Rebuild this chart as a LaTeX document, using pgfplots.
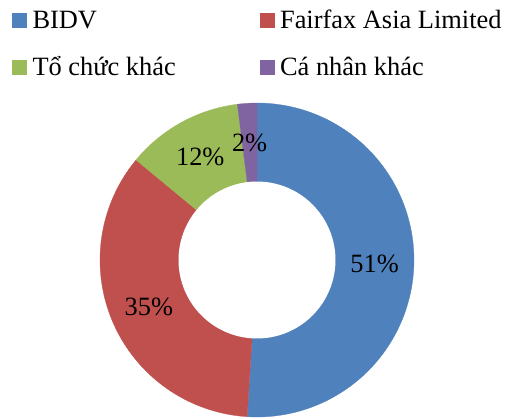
\documentclass[border=0pt]{standalone}
\usepackage{fontspec}
\setmainfont{Liberation Serif}
\usepackage{pgfplots}
\usepackage{pgfplotstable}
\pgfplotsset{compat=1.18}

\definecolor{cBIDV}{HTML}{4F81BD}
\definecolor{cFair}{HTML}{C0504D}
\definecolor{cOrg}{HTML}{9BBB59}
\definecolor{cInd}{HTML}{8064A2}

% shares in percent: BIDV, Fairfax, other orgs, other individuals
\pgfplotstableread{
value
51
35
12
2
}\shares

\begin{document}
\begin{tikzpicture}
\pgfplotstablegetelem{0}{value}\of\shares \pgfmathsetmacro\vA{\pgfplotsretval}
\pgfplotstablegetelem{1}{value}\of\shares \pgfmathsetmacro\vB{\pgfplotsretval}
\pgfplotstablegetelem{2}{value}\of\shares \pgfmathsetmacro\vC{\pgfplotsretval}
\pgfplotstablegetelem{3}{value}\of\shares \pgfmathsetmacro\vD{\pgfplotsretval}
% slice edges, clockwise from 12 o'clock
\pgfmathsetmacro\aA{90}
\pgfmathsetmacro\aB{\aA-3.6*\vA}
\pgfmathsetmacro\aC{\aB-3.6*\vB}
\pgfmathsetmacro\aD{\aC-3.6*\vC}
\pgfmathsetmacro\aE{\aD-3.6*\vD}
\pgfmathsetmacro\mA{(\aA+\aB)/2}
\pgfmathsetmacro\mB{(\aB+\aC)/2}
\pgfmathsetmacro\mC{(\aC+\aD)/2}
\pgfmathsetmacro\mD{(\aD+\aE)/2}
\begin{axis}[
    scale only axis, width=235.5pt, height=235.5pt,
    xmin=-1, xmax=1, ymin=-1, ymax=1,
    hide axis, clip=false,
    samples=120, variable=\t,
    legend columns=2, legend cell align=left,
    legend image code/.code={\fill[#1] (0pt,-5.25pt) rectangle (10.5pt,5.25pt);},
    legend style={at={(-0.2803,1.3025)}, anchor=north west,
        draw=none, fill=none, inner sep=0pt,
        font=\fontsize{19.8}{24}\selectfont, row sep=17.25pt,
        nodes={inner sep=0pt, text height=15pt, text depth=3pt},
        /tikz/every odd column/.append style={column sep=4.5pt},
        /tikz/every even column/.append style={column sep=63pt}},
]
\addplot[fill=cBIDV, draw=cBIDV, line width=0.2pt, domain=\aB:\aA] ({cos(t)},{sin(t)}) -- (axis cs:0,0) -- cycle;
\addlegendentry{BIDV}
\addplot[fill=cFair, draw=cFair, line width=0.2pt, domain=\aC:\aB] ({cos(t)},{sin(t)}) -- (axis cs:0,0) -- cycle;
\addlegendentry{Fairfax Asia Limited}
\addplot[fill=cOrg, draw=cOrg, line width=0.2pt, domain=\aD:\aC] ({cos(t)},{sin(t)}) -- (axis cs:0,0) -- cycle;
\addlegendentry{Tổ chức khác}
\addplot[fill=cInd, draw=cInd, line width=0.2pt, domain=\aE:\aD, samples=10] ({cos(t)},{sin(t)}) -- (axis cs:0,0) -- cycle;
\addlegendentry{Cá nhân khác}
% hole
\addplot[forget plot, fill=white, draw=none, domain=0:360] ({0.5*cos(t)},{0.5*sin(t)}) -- cycle;
\node[font=\fontsize{19.8}{24}\selectfont] at (axis cs:{0.75*cos(\mA)},{0.75*sin(\mA)}) {51\%};
\node[font=\fontsize{19.8}{24}\selectfont] at (axis cs:{0.75*cos(\mB)},{0.75*sin(\mB)}) {35\%};
\node[font=\fontsize{19.8}{24}\selectfont] at (axis cs:{0.75*cos(\mC)},{0.75*sin(\mC)}) {12\%};
\node[font=\fontsize{19.8}{24}\selectfont] at (axis cs:{0.75*cos(\mD)},{0.75*sin(\mD)}) {2\%};
\end{axis}
\pgfresetboundingbox
\path (-75pt,-0.75pt) rectangle (304.5pt,312.75pt);
\end{tikzpicture}
\end{document}
